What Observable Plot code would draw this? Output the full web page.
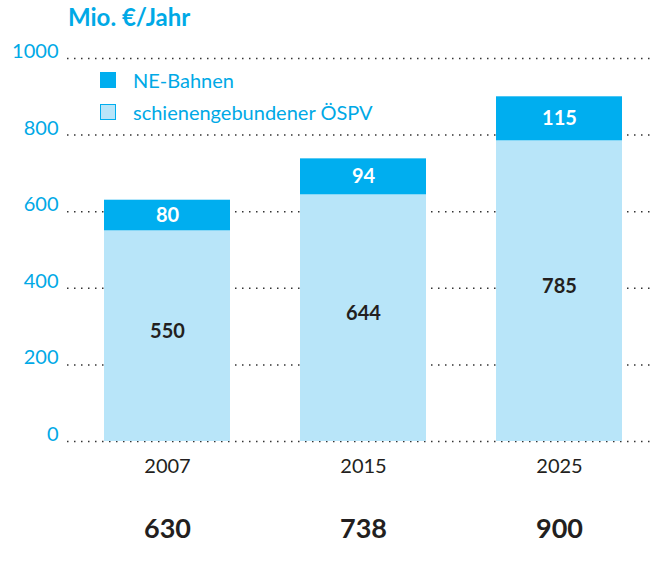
<!DOCTYPE html>
<html>
<head>
<meta charset="utf-8">
<script src="https://cdn.jsdelivr.net/npm/d3@7"></script>
<script src="https://cdn.jsdelivr.net/npm/@observablehq/plot@0.6"></script>
<style>
  body { margin: 0; background: #fff; }
  #wrap { position: relative; width: 655px; height: 566px; font-family: Lato, "Open Sans", sans-serif; }
  #title { position: absolute; left: 68px; top: 5px; font-size: 24px; font-weight: 700; color: #00a9e6; line-height: 1; }
  .leg { position: absolute; left: 100px; display: flex; align-items: center; font-size: 20px; color: #00a9e6; line-height: 1; }
  .sw { width: 16px; height: 16px; box-sizing: border-box; margin-right: 17px; }
  svg { position: absolute; left: 0; top: 0; }
</style>
</head>
<body>
<div id="wrap">
  <div id="chart"></div>
  <div id="title">Mio. €/Jahr</div>
  <div id="legend"></div>
</div>
<script>
const years = ["2007", "2015", "2025"];
const seriesNames = ["schienengebundener ÖSPV", "NE-Bahnen"];
const ospv = [550, 644, 785];
const neBahnen = [80, 94, 115];
const yTicks = [0, 200, 400, 600, 800, 1000];
const colors = ["#b8e5f9", "#00aeef"];
const legendOrder = ["NE-Bahnen", "schienengebundener ÖSPV"];

const data = [];
years.forEach((y, i) => {
  data.push({year: y, series: seriesNames[0], value: ospv[i]});
  data.push({year: y, series: seriesNames[1], value: neBahnen[i]});
});
const totals = years.map((y, i) => ({year: y, total: ospv[i] + neBahnen[i]}));

const cyan = "#00a9e6";
const dark = "#231f20";

const stackText = (isTop, extra) => Plot.text(data, Plot.filter(
  d => (d.series === "NE-Bahnen") === isTop,
  Plot.stackY({x: "year", y: "value", z: "series", text: "value", fontSize: 20, fontWeight: 700, ...extra})
));

const chart = Plot.plot({
  width: 655,
  height: 566,
  marginTop: 58,
  marginBottom: 125,
  marginLeft: 67,
  marginRight: 5,
  style: {fontFamily: "Lato, 'Open Sans', sans-serif", background: "transparent"},
  x: {domain: years, range: [67, 660], paddingInner: 0.355, paddingOuter: 0.183},
  y: {domain: [0, 1000]},
  color: {domain: seriesNames, range: colors},
  marks: [
    Plot.ruleY(yTicks, {stroke: "#333", strokeWidth: 1.5, strokeDasharray: "1.5,5.5"}),
    Plot.barY(data, {x: "year", y: "value", fill: "series"}),
    stackText(true, {fill: "white"}),
    stackText(false, {fill: dark, dy: -5}),
    Plot.axisY({ticks: yTicks, tickFormat: d => String(d), tickSize: 0, tickPadding: 9, dy: -7, fontSize: 20, fill: cyan, label: null, textAnchor: "end"}),
    Plot.axisX({tickSize: 0, tickPadding: 17, fontSize: 20, fill: dark, label: null}),
    Plot.text(totals, {x: "year", text: "total", frameAnchor: "bottom", dy: 96, fontSize: 27, fontWeight: 700, fill: dark})
  ]
});
document.getElementById("chart").appendChild(chart);

const legend = document.getElementById("legend");
const legTops = [71, 103];
legendOrder.forEach((name, i) => {
  const row = document.createElement("div");
  row.className = "leg";
  row.style.top = (legTops[i] - 1) + "px";
  const sw = document.createElement("div");
  sw.className = "sw";
  const c = colors[seriesNames.indexOf(name)];
  sw.style.background = c;
  if (name !== "NE-Bahnen") sw.style.border = "1.5px solid #00aeef";
  const t = document.createElement("span");
  t.textContent = name;
  row.appendChild(sw);
  row.appendChild(t);
  legend.appendChild(row);
});
</script>
</body>
</html>
